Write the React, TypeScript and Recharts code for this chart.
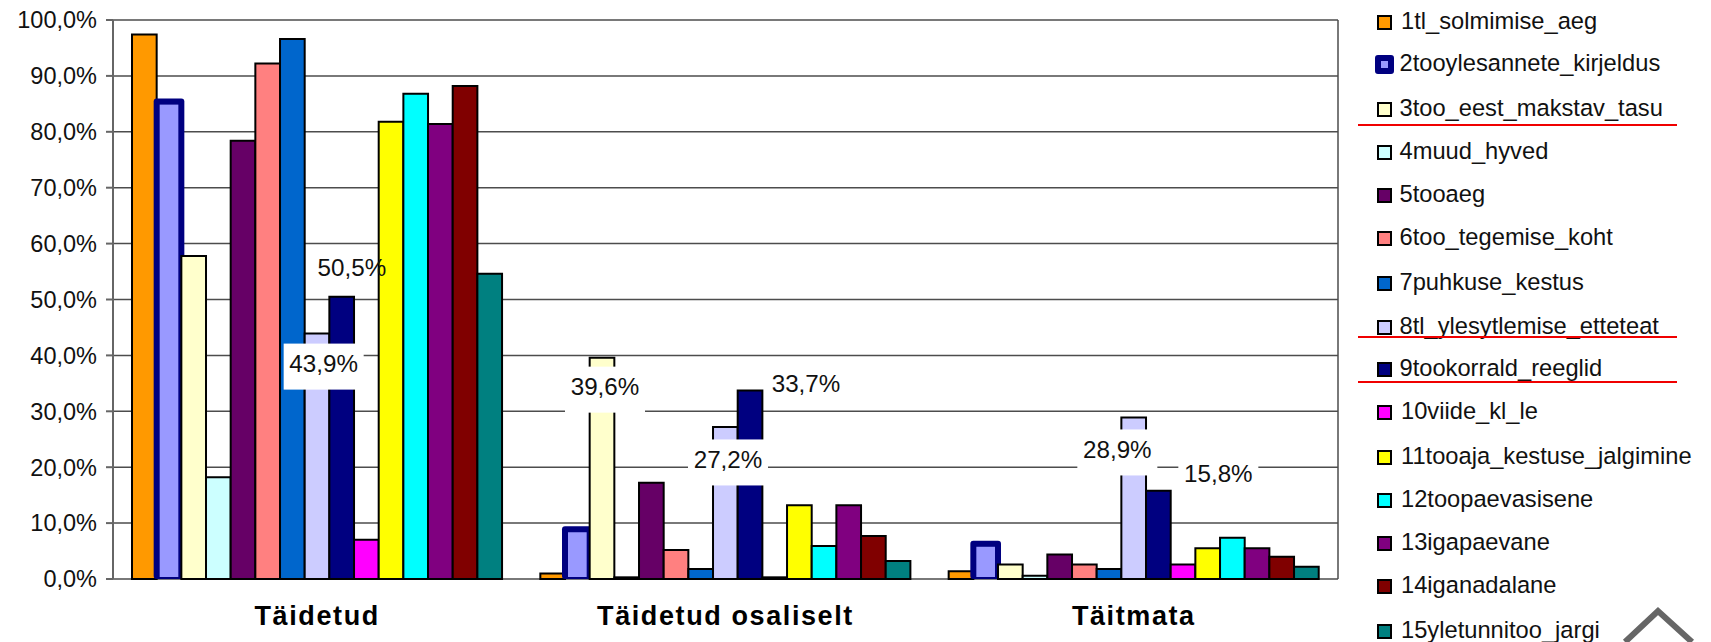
import { BarChart, Bar, XAxis, YAxis, CartesianGrid, Legend, ReferenceDot } from 'recharts';

const categories = ['Täidetud', 'Täidetud osaliselt', 'Täitmata'];

const seriesNames = [
  '1tl_solmimise_aeg',
  '2tooylesannete_kirjeldus',
  '3too_eest_makstav_tasu',
  '4muud_hyved',
  '5tooaeg',
  '6too_tegemise_koht',
  '7puhkuse_kestus',
  '8tl_ylesytlemise_etteteat',
  '9tookorrald_reeglid',
  '10viide_kl_le',
  '11tooaja_kestuse_jalgimine',
  '12toopaevasisene',
  '13igapaevane',
  '14iganadalane',
  '15yletunnitoo_jargi',
];

const taidetud = [97.4, 85.4, 57.8, 18.2, 78.4, 92.2, 96.6, 43.9, 50.5, 7.0, 81.8, 86.8, 81.4, 88.2, 54.6];
const osaliselt = [1.0, 8.9, 39.6, 0.3, 17.2, 5.2, 1.8, 27.2, 33.7, 0.3, 13.2, 5.9, 13.2, 7.7, 3.2];
const taitmata = [1.4, 6.3, 2.6, 0.6, 4.4, 2.6, 1.8, 28.9, 15.8, 2.6, 5.5, 7.4, 5.5, 4.0, 2.2];

const fills = [
  '#FF9900', '#9999FF', '#FFFFCC', '#CCFFFF', '#660066', '#FF8080', '#0066CC', '#CCCCFF',
  '#000080', '#FF00FF', '#FFFF00', '#00FFFF', '#800080', '#800000', '#008080',
];

const yTicks = [0, 10, 20, 30, 40, 50, 60, 70, 80, 90, 100];
const boundTicks = [0, 1, 2, 3];

// the few data labels the original shows, offsets are from the band centre / bar top
const labelPoints = [
  { category: categories[0], value: taidetud[7], dx: 6.5, dy: 33, boxed: true },
  { category: categories[0], value: taidetud[8], dx: 34.7, dy: -26, boxed: false },
  { category: categories[1], value: osaliselt[2], dx: -120.5, dy: 32, boxed: true },
  { category: categories[1], value: osaliselt[7], dx: 2.5, dy: 35.5, boxed: true },
  { category: categories[1], value: osaliselt[8], dx: 80.5, dy: -4, boxed: false },
  { category: categories[2], value: taitmata[7], dx: -16.5, dy: 35, boxed: true },
  { category: categories[2], value: taitmata[8], dx: 84.5, dy: -14, boxed: true },
];

// legend layout
const legendRowCenters = [22, 64, 109, 152, 195, 238, 283, 327, 369, 412, 457, 500, 543, 586, 631];
const legendRules: Record<string, number> = {
  '3too_eest_makstav_tasu': 125,
  '8tl_ylesytlemise_etteteat': 337,
  '9tookorrald_reeglid': 382,
};

const FONT = '"Liberation Sans", Arial, sans-serif';
const TEXT = '#111111';

const chartData = categories.map((category, c) => {
  const row: Record<string, string | number> = { category };
  const values = [taidetud, osaliselt, taitmata][c];
  seriesNames.forEach((name, i) => {
    row[name] = values[i];
  });
  return row;
});

const pct = (v: number) => `${v.toFixed(1).replace('.', ',')}%`;

function LegendContent() {
  return (
    <div style={{ position: 'relative', width: 373, height: 642, fontFamily: FONT, fontSize: 23.7, color: TEXT }}>
      {seriesNames.map((name, i) => {
        const isThick = i === 1;
        const size = isThick ? 19 : 15;
        return (
          <div key={name}>
            <div
              style={{
                position: 'absolute',
                boxSizing: 'border-box',
                left: isThick ? 37 : 39,
                top: legendRowCenters[i] - size / 2,
                width: size,
                height: size,
                background: fills[i],
                border: isThick ? '6px solid #000080' : '2px solid #000',
                borderRadius: isThick ? 3 : 0,
              }}
            />
            <div
              style={{
                position: 'absolute',
                left: i >= 9 || i === 0 ? 63 : 61.5,
                top: legendRowCenters[i] - 16,
                lineHeight: '30px',
                whiteSpace: 'nowrap',
              }}
            >
              {name}
            </div>
            {legendRules[name] !== undefined && (
              <div
                style={{
                  position: 'absolute',
                  left: 20,
                  width: 319,
                  top: legendRules[name] - 1,
                  height: 1.5,
                  background: '#F00000',
                }}
              />
            )}
          </div>
        );
      })}
      <svg style={{ position: 'absolute', left: 0, top: 0 }} width={373} height={642}>
        <path d="M287 642 L320 611 L354 642" fill="none" stroke="#666666" strokeWidth={6} />
      </svg>
    </div>
  );
}

function DataLabel(props: any) {
  const { cx, cy, dx, dy, boxed, text } = props;
  const x = cx + dx;
  const y = cy + dy;
  return (
    <g>
      {boxed && <rect x={x - 40} y={y - 23} width={80} height={46} fill="#ffffff" />}
      <text
        x={x}
        y={y - 3}
        textAnchor="middle"
        dominantBaseline="central"
        fontFamily={FONT}
        fontSize={24.2}
        fill={TEXT}
      >
        {text}
      </text>
    </g>
  );
}

// series 2 has the heavy navy frame, which sits on the axis instead of going through it
function HeavyBar(props: any) {
  const { x, y, width, height, fill } = props;
  return (
    <g>
      <rect x={x - 3} y={y - 3} width={width + 6} height={height + 3} rx={3} fill="#000080" />
      <rect x={x + 3} y={y + 3} width={width - 6} height={height - 5} fill={fill} />
    </g>
  );
}

export default function App() {
  return (
    <div style={{ position: 'absolute', left: 0, top: 0, width: 1711, height: 642, background: '#fff', overflow: 'hidden' }}>
      <BarChart
        width={1711}
        height={642}
        data={chartData}
        margin={{ top: 20, right: 0, bottom: 0, left: 0 }}
        barSize={24.67}
        barGap={0}
      >
        <CartesianGrid xAxisId="bounds" stroke="#4d4d4d" strokeWidth={1.5} />
        <XAxis
          xAxisId="bounds"
          type="number"
          domain={[0, 3]}
          ticks={boundTicks}
          tick={false}
          tickSize={8}
          height={0}
          stroke="#555555"
          strokeWidth={2}
        />
        <XAxis
          dataKey="category"
          axisLine={false}
          tickLine={false}
          height={63}
          interval={0}
          tickMargin={21}
          tick={{ fontFamily: FONT, fontSize: 27, fontWeight: 700, fill: '#000', letterSpacing: 1.6 }}
        />
        <YAxis
          domain={[0, 100]}
          ticks={yTicks}
          width={113}
          interval={0}
          tickFormatter={pct}
          tickSize={7}
          tickMargin={9}
          stroke="#666666"
          strokeWidth={2}
          tick={{ fontFamily: FONT, fontSize: 23.5, fill: TEXT }}
        />
        <Legend
          layout="vertical"
          align="right"
          verticalAlign="top"
          width={373}
          height={642}
          wrapperStyle={{ top: 0, right: 0, margin: 0, padding: 0 }}
          content={<LegendContent />}
        />
        {seriesNames.map((name, i) => (
          <Bar
            key={name}
            dataKey={name}
            name={name}
            fill={fills[i]}
            stroke="#000000"
            strokeWidth={2}
            shape={i === 1 ? <HeavyBar /> : undefined}
            isAnimationActive={false}
          />
        ))}
        {labelPoints.map((p) => (
          <ReferenceDot
            key={`${p.category}-${p.value}`}
            x={p.category}
            y={p.value}
            shape={(props: any) => (
              <DataLabel {...props} dx={p.dx} dy={p.dy} boxed={p.boxed} text={pct(p.value)} />
            )}
          />
        ))}
      </BarChart>
    </div>
  );
}
